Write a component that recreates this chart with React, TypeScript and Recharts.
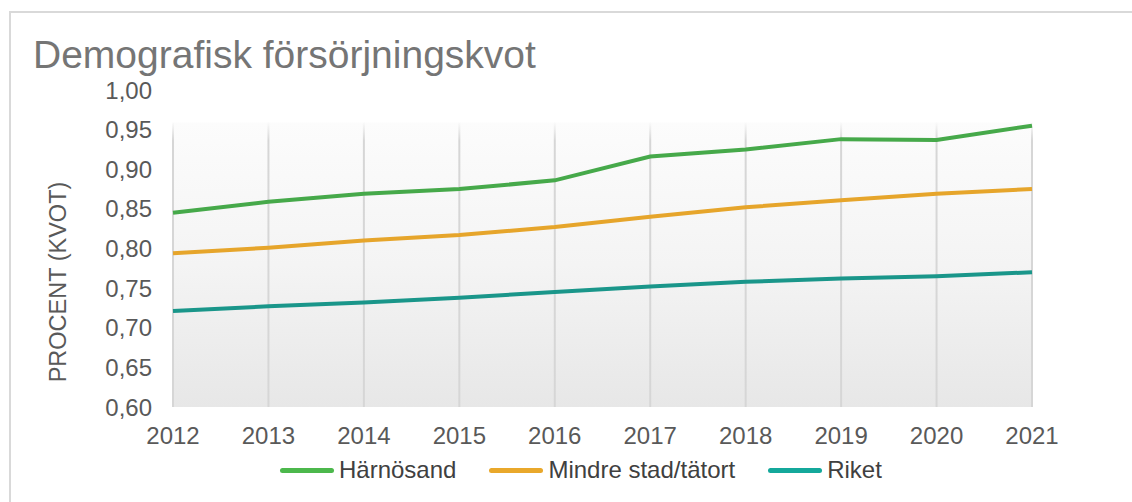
import React from 'react';
import {
  LineChart,
  Line,
  XAxis,
  YAxis,
  CartesianGrid,
  Legend,
} from 'recharts';

// ---- data ----
const years = ['2012', '2013', '2014', '2015', '2016', '2017', '2018', '2019', '2020', '2021'];
const harnosand = [0.845, 0.859, 0.869, 0.875, 0.886, 0.916, 0.925, 0.938, 0.937, 0.955];
const mindreStad = [0.794, 0.801, 0.81, 0.817, 0.827, 0.84, 0.852, 0.861, 0.869, 0.875];
const riket = [0.721, 0.727, 0.732, 0.738, 0.745, 0.752, 0.758, 0.762, 0.765, 0.77];
const yTicks = [0.6, 0.65, 0.7, 0.75, 0.8, 0.85, 0.9, 0.95, 1.0];

const series = [
  { key: 'harnosand', name: 'Härnösand', color: '#46a94a', legend: '#4cb84c' },
  { key: 'mindre', name: 'Mindre stad/tätort', color: '#e6a52b', legend: '#e9a82b' },
  { key: 'riket', name: 'Riket', color: '#1a968a', legend: '#14a89b' },
];

const data = years.map((year, i) => ({
  year,
  harnosand: harnosand[i],
  mindre: mindreStad[i],
  riket: riket[i],
}));

const FONT = '"Liberation Sans", Arial, sans-serif';
const tickStyle = { fontSize: 24, fill: '#595959', fontFamily: FONT };

function LegendContent() {
  return (
    <div style={{ display: 'flex', alignItems: 'center', fontFamily: FONT, fontSize: 24, color: '#404040' }}>
      {series.map((s) => (
        <div key={s.key} style={{ display: 'flex', alignItems: 'center', marginRight: 33 }}>
          <span
            style={{
              display: 'inline-block',
              width: 54,
              height: 5,
              borderRadius: 3,
              background: s.legend,
              marginRight: 5,
            }}
          />
          <span>{s.name}</span>
        </div>
      ))}
    </div>
  );
}

function YLabel(props: any) {
  const { viewBox } = props;
  const cx = viewBox.x + 58;
  const cy = viewBox.y + 192;
  return (
    <text
      x={cx}
      y={cy}
      transform={`rotate(-90, ${cx}, ${cy})`}
      textAnchor="middle"
      dominantBaseline="central"
      fontSize={23.5}
      fill="#595959"
      fontFamily={FONT}
    >
      PROCENT (KVOT)
    </text>
  );
}

export default function App() {
  return (
    <div style={{ position: 'absolute', left: 0, top: 0, width: 1132, height: 502, background: '#fff' }}>
      <div
        style={{
          position: 'absolute',
          left: 9,
          top: 11,
          width: 1123,
          height: 491,
          borderTop: '2px solid #d9d9d9',
          borderLeft: '2px solid #d9d9d9',
          boxSizing: 'border-box',
        }}
      />
      <div
        style={{
          position: 'absolute',
          left: 33,
          top: 33,
          fontFamily: FONT,
          fontSize: 39,
          color: '#757575',
          lineHeight: '44px',
          whiteSpace: 'nowrap',
        }}
      >
        Demografisk försörjningskvot
      </div>
      <div style={{ position: 'absolute', left: 0, top: 0 }}>
        <LineChart width={1132} height={502} data={data} margin={{ top: 90, right: 100, bottom: 65, left: 0 }}>
          <defs>
            <linearGradient id="plotBg" x1="0" y1="0" x2="0" y2="1">
              <stop offset="0%" stopColor="#ffffff" />
              <stop offset="10%" stopColor="#ffffff" />
              <stop offset="10.5%" stopColor="#fcfcfc" />
              <stop offset="55%" stopColor="#f4f4f4" />
              <stop offset="100%" stopColor="#e7e7e7" />
            </linearGradient>
            <linearGradient id="gridFade" gradientUnits="userSpaceOnUse" x1="0" y1="90" x2="0" y2="407">
              <stop offset="0%" stopColor="#d6d6d6" stopOpacity={0} />
              <stop offset="10%" stopColor="#d6d6d6" stopOpacity={0} />
              <stop offset="16%" stopColor="#d6d6d6" stopOpacity={1} />
              <stop offset="100%" stopColor="#d6d6d6" stopOpacity={1} />
            </linearGradient>
          </defs>
          <CartesianGrid horizontal={false} stroke="url(#gridFade)" strokeWidth={2} fill="url(#plotBg)" />
          <XAxis
            dataKey="year"
            height={30}
            axisLine={false}
            tickLine={false}
            tickSize={0}
            tickMargin={20}
            tick={tickStyle}
            interval={0}
          />
          <YAxis
            width={173}
            domain={[0.6, 1.0]}
            ticks={yTicks}
            axisLine={false}
            tickLine={false}
            tickSize={0}
            tickMargin={21}
            tick={tickStyle}
            interval={0}
            tickFormatter={(v: number) => v.toFixed(2).replace('.', ',')}
            label={<YLabel />}
          />
          <Legend
            layout="horizontal"
            verticalAlign="middle"
            align="center"
            content={<LegendContent />}
            wrapperStyle={{ left: 280, top: 456, width: 800, height: 30 }}
          />
          {series.map((s) => (
            <Line
              key={s.key}
              type="linear"
              dataKey={s.key}
              name={s.name}
              stroke={s.color}
              strokeWidth={4}
              dot={false}
              activeDot={false}
              isAnimationActive={false}
            />
          ))}
        </LineChart>
      </div>
    </div>
  );
}
